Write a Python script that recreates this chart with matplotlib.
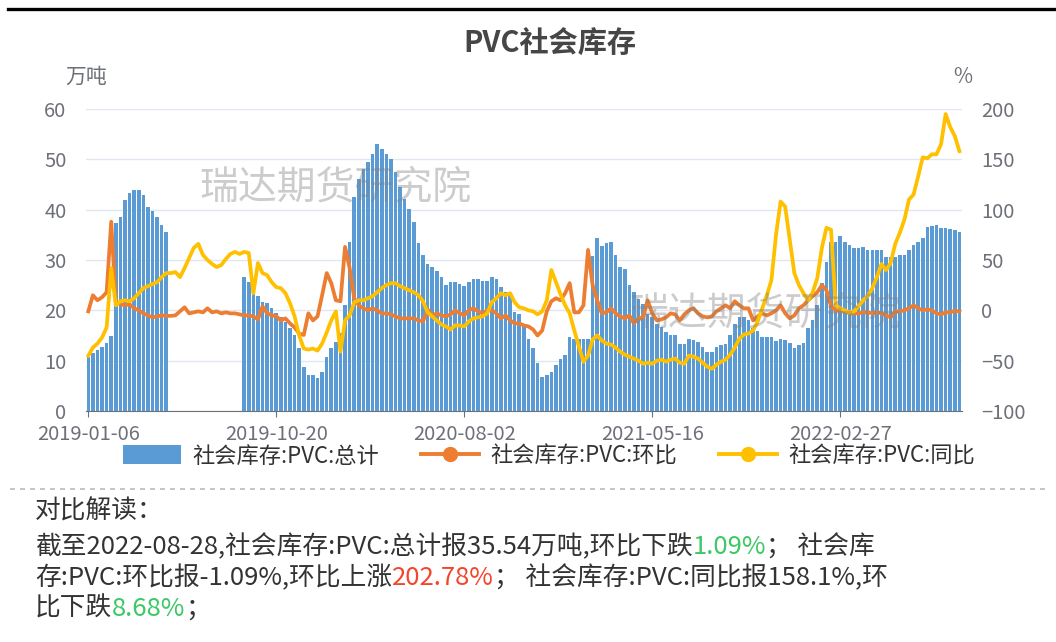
import numpy as np
import pandas as pd
import matplotlib
matplotlib.use('Agg')
import matplotlib.pyplot as plt
import matplotlib.patches as mpatches
from matplotlib.lines import Line2D

plt.rcParams['font.family'] = ['Noto Sans CJK SC', 'DejaVu Sans']

# 周度日期（分类轴）
dates = pd.date_range('2019-01-06', periods=191, freq='7D').strftime('%Y-%m-%d')
nan = np.nan

# 社会库存:PVC:总计 (万吨)
total = [10.8, 11.5, 12.2, 12.8, 13.5, 15.0, 37.3, 38.6, 41.9, 43.3,
         43.9, 43.9, 42.9, 40.6, 39.7, 38.6, 37.0, 35.6, nan, nan,
         nan, nan, nan, nan, nan, nan, nan, nan, nan, nan,
         nan, nan, nan, nan, 26.7, 25.7, 23.4, 22.8, 21.7, 21.4,
         20.4, 19.4, 18.7, 17.7, 16.4, 15.1, 12.5, 8.8, 7.2, 7.2,
         6.5, 7.8, 10.8, 12.5, 13.8, 15.5, 21.0, 33.5, 42.5, 46.0,
         48.0, 49.5, 51.0, 53.0, 52.0, 51.0, 50.0, 47.5, 44.5, 42.2,
         40.2, 37.6, 33.3, 30.9, 29.3, 28.6, 27.9, 26.6, 25.1, 25.6,
         25.6, 25.3, 24.9, 25.6, 26.3, 26.3, 25.9, 25.9, 26.6, 26.3,
         24.6, 23.6, 23.2, 19.6, 19.3, 16.8, 14.4, 12.5, 9.5, 6.8,
         7.2, 7.8, 9.1, 10.4, 11.1, 14.8, 14.4, 14.4, 14.4, 14.4,
         30.7, 34.3, 32.7, 33.4, 33.5, 31.0, 28.6, 28.3, 25.0, 23.6,
         22.3, 21.3, 19.3, 18.7, 17.3, 16.6, 15.6, 15.1, 15.1, 13.4,
         13.4, 14.4, 14.1, 13.8, 12.8, 11.8, 11.8, 12.8, 13.1, 13.4,
         15.1, 17.3, 18.7, 18.7, 18.0, 16.4, 15.8, 14.8, 14.8, 14.8,
         14.0, 14.4, 14.2, 13.5, 12.5, 13.1, 13.6, 16.5, 18.0, 21.0,
         25.5, 29.7, 33.6, 33.6, 34.8, 33.6, 33.0, 32.3, 32.3, 32.5,
         32.0, 31.9, 31.9, 31.9, 30.6, 30.6, 30.6, 31.0, 31.0, 32.0,
         33.0, 33.6, 34.3, 36.5, 36.8, 37.0, 36.3, 36.3, 36.2, 35.93,
         35.54]

# 社会库存:PVC:环比 (%)
hb = [-1, 15, 10, 13, 18, 88, 8, 6, 5, 6,
      2, 0, -3, -5, -7, -6, -5, -5.5, -5.5, -5,
      -1, 3, -3, -2, -1, -2, 2, -2, -1, -3,
      -2, -3, -3, -4, -5, -5, -6, -9, 4, -3,
      -5, -6, -10, -8, -13, -17, -23, -24.5, -3, -10,
      -6, 15, 37, 27, 10, 9, 63, 42, 12, 5,
      2, 0, 2, 0, -3, -3, -4, -6, -8, -8,
      -8, -8, -10, -11, 1, -5, -3, -5, -6, -4,
      0, -3, -5, 0, 2, -1, -3, 0, 0, -3,
      -8, -5, -10, -13, -13, -15, -16, -19, -25, -20,
      -1, 9, 12, 10, 17, 27, -2, -2, 5, 60,
      25, 10, -3, -2, 2, -3, -6, -8, -5, -13,
      -8, -7, 10, -3, -10, -9, -7, -3, -4, -10,
      -4, 0, 2, -3, -6, -7, -6, -1, 2, 5,
      2, 9, 5, 2, 2, -10, -6, -3, -5, -3,
      0, 5, -3, -8, -5, 2, 5, 10, 14, 18,
      25, 20, 4, 0, 0, -1, -3, -3, -3, -2,
      -2, -3, -2, -3, -5, -7, -1, -1, 0, 2,
      5, 2, 0, 1, 0, -3, -4, -2, -2, -0.36,
      -1.09]

# 社会库存:PVC:同比 (%)
tb = [-45, -37, -33, -27, -17, 42, 5, 9, 10, 9,
      12, 17, 22, 24, 26, 28, 33, 37, 37, 38,
      33, 42, 52, 62, 66, 55, 50, 46, 43, 45,
      51, 56, 58, 56, 58, 57, 17, 47, 37, 35,
      28, 23, 22, 17, 7, -6, -25, -38, -39, -38,
      -40, -33, -22, -10, -1, -41, -10, -5, 8, 10,
      10, 12, 14, 18, 22, 25, 27, 27, 24, 22,
      20, 18, 15, 9, -2, -6, -10, -14, -16, -19,
      -15, -15, -16, -11, -8, -7, -6, -3, 8, 12,
      17, 15, 17, 8, 3, 2, 0, -1, -4, -1,
      10, 40, 28, 16, 5, -3, -20, -36, -51, -45,
      -29, -25, -30, -33, -34, -37, -41, -44, -46, -48,
      -50, -53, -52, -53, -50, -49, -51, -49, -48, -52,
      -53, -45, -46, -48, -52, -56, -58, -54, -51, -49,
      -44, -37, -28, -24, -23, -20, -11, 2, 15, 30,
      75, 108, 103, 70, 37, 25, 17, 10, 18, 32,
      62, 82, 80, 5, 2, 0, -2, -1, 4, 10,
      14, 22, 33, 46, 40, 47, 66, 77, 90, 110,
      115, 133, 152, 151, 155, 155, 165, 195, 182, 173.1,
      158.1]

tick_idx = [0, 41, 82, 123, 164]

BLUE = '#5b9bd5'
ORANGE = '#ed7d31'
YELLOW = '#ffc000'
GREY = '#6e7079'

W, H = 1056, 642
fig = plt.figure(figsize=(W / 100, H / 100), dpi=100)
ax = fig.add_axes([86 / W, (H - 411) / H, (961.7 - 86) / W, (411 - 109) / H])
x = np.arange(len(dates))

ax.bar(x, total, width=0.78, color=BLUE, zorder=2)
ax.set_xlim(-0.5, len(dates) - 0.5)
ax.set_ylim(0, 60)
ax.set_yticks(range(0, 61, 10))
ax.yaxis.grid(True, color='#e0e6f1', lw=1)
ax.set_axisbelow(True)
ax.set_xticks(tick_idx)
ax.set_xticklabels([dates[i] for i in tick_idx])
ax.tick_params(axis='x', length=4, color=GREY, labelcolor=GREY, labelsize=14.5, pad=5)
ax.tick_params(axis='y', length=0, labelcolor=GREY, labelsize=14.5, pad=14)
for s in ['left', 'right', 'top']:
    ax.spines[s].set_visible(False)
ax.spines['bottom'].set_color(GREY)

ax2 = ax.twinx()
ax2.plot(x, hb, color=ORANGE, lw=2.7, solid_joinstyle='round', zorder=3)
ax2.plot(x, tb, color=YELLOW, lw=2.7, solid_joinstyle='round', zorder=4)
ax2.set_ylim(-100, 200)
ax2.set_yticks(range(-100, 201, 50))
ax2.tick_params(axis='y', length=0, labelcolor=GREY, labelsize=14.5, pad=14)
for s in ax2.spines.values():
    s.set_visible(False)

# 单位
fig.text(86 / W, (H - 77) / H, '万吨', ha='center', va='center', fontsize=15, color=GREY)
fig.text(963 / W, (H - 77) / H, '%', ha='center', va='center', fontsize=15, color=GREY)

# 标题
fig.text(550 / W, (H - 44) / H, 'PVC社会库存', ha='center', va='center',
         fontsize=21, fontweight='bold', color='#464646')

# 水印
for cx, cy in [(335, 187), (765, 313)]:
    fig.text(cx / W, (H - cy) / H, '瑞达期货研究院', ha='center', va='center',
             fontsize=28, color='#808080', alpha=0.4, zorder=10)

# 图例
handles = [mpatches.Patch(facecolor=BLUE),
           Line2D([], [], color=ORANGE, lw=2.8, marker='o', markersize=10),
           Line2D([], [], color=YELLOW, lw=2.8, marker='o', markersize=10)]
labels = ['社会库存:PVC:总计', '社会库存:PVC:环比', '社会库存:PVC:同比']
fig.legend(handles, labels, loc='center', bbox_to_anchor=(549 / W, (H - 456) / H),
           ncol=3, frameon=False, fontsize=16, handlelength=2.6, handleheight=0.95,
           columnspacing=1.9, handletextpad=0.5, labelcolor='#333333')

# 顶部黑线与虚线分隔
fig.add_artist(Line2D([8 / W, 1.0], [(H - 9) / H] * 2, color='black', lw=2.4))
fig.add_artist(Line2D([10 / W, 1050 / W], [(H - 489) / H] * 2, color='#bbbbbb',
                      lw=1.2, ls=(0, (3, 3))))

# 对比解读
TXT = '#333333'
GREEN = '#3cc864'
RED = '#f5452a'
fs = 18.5
lines = [
    [('对比解读：', TXT)],
    [('截至2022-08-28,社会库存:PVC:总计报35.54万吨,环比下跌', TXT), ('1.09%', GREEN),
     ('； 社会库', TXT)],
    [('存:PVC:环比报-1.09%,环比上涨', TXT), ('202.78%', RED),
     ('； 社会库存:PVC:同比报158.1%,环', TXT)],
    [('比下跌', TXT), ('8.68%', GREEN), ('；', TXT)],
]
ys = [512, 547, 578, 609]
for y, parts in zip(ys, lines):
    t = fig.text(35 / W, (H - y) / H, parts[0][0], color=parts[0][1], fontsize=fs,
                 ha='left', va='center')
    for s, c in parts[1:]:
        t = ax.annotate(s, xy=(1, 0), xycoords=t, ha='left', va='bottom',
                        color=c, fontsize=fs, annotation_clip=False)

fig.savefig('out.png', dpi=100)
